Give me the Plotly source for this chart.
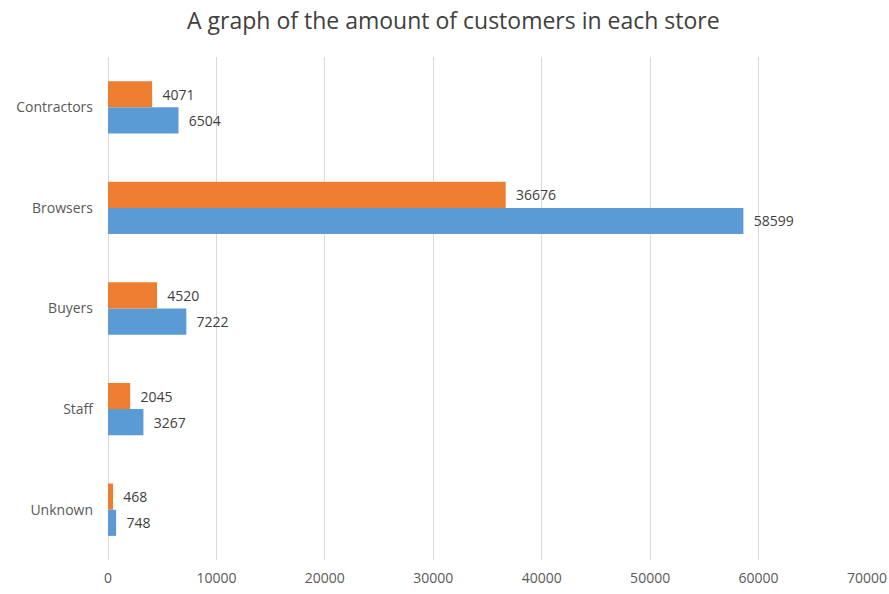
import plotly.graph_objects as go

categories = ["Contractors", "Browsers", "Buyers", "Staff", "Unknown"]
series_blue = [6504, 58599, 7222, 3267, 748]
series_orange = [4071, 36676, 4520, 2045, 468]
x_ticks = [0, 10000, 20000, 30000, 40000, 50000, 60000, 70000]

BLUE = "#5B9BD5"
ORANGE = "#ED7D31"
FONT = "Open Sans"

fig = go.Figure()
for vals, col, nm in [(series_blue, BLUE, "Series 1"), (series_orange, ORANGE, "Series 2")]:
    fig.add_trace(go.Bar(
        y=categories, x=vals, orientation="h", name=nm,
        marker=dict(color=col, line=dict(width=0)),
        text=["  " + str(v) for v in vals], texttemplate="%{text}", textposition="outside",
        textfont=dict(family=FONT, size=14, color="#404040"), cliponaxis=False,
    ))

fig.update_layout(
    width=889, height=594,
    margin=dict(l=108, r=22, t=57, b=34, autoexpand=False),
    paper_bgcolor="white", plot_bgcolor="white",
    barmode="group", bargap=0.48, bargroupgap=0,
    showlegend=False,
    title=dict(text="A graph of the amount of customers in each store",
               x=0.51, xanchor="center", y=0.965, yanchor="middle",
               font=dict(family=FONT, size=23, color="#404040")),
    font=dict(family=FONT, size=14, color="#595959"),
    xaxis=dict(range=[0, 70000], tickvals=x_ticks, ticktext=[str(t) for t in x_ticks],
               showgrid=True, gridcolor="#D9D9D9", gridwidth=1,
               zeroline=True, zerolinecolor="#D9D9D9", zerolinewidth=1,
               showline=False, ticks="", ticklabelstandoff=8, automargin=False,
               tickfont=dict(family=FONT, size=14, color="#595959")),
    yaxis=dict(categoryorder="array", categoryarray=categories[::-1],
               showgrid=False, showline=False, ticks="", ticklabelstandoff=14, automargin=False,
               tickfont=dict(family=FONT, size=14, color="#595959")),
)

fig.write_html("out.html")
